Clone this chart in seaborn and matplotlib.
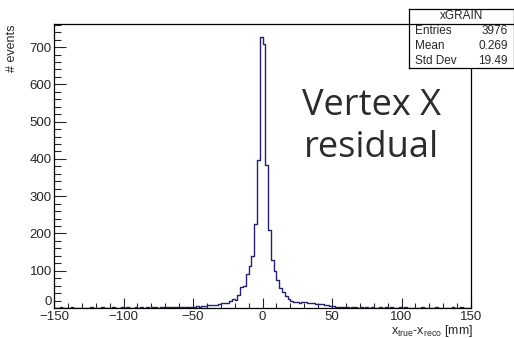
import matplotlib
matplotlib.use("Agg")
import matplotlib.pyplot as plt
from matplotlib.ticker import MultipleLocator, FuncFormatter
import numpy as np
import pandas as pd
import seaborn as sns

# histogram binning: 150 bins of 2 mm from -150 to 150
x_min, x_max, n_bins = -150, 150, 150

# counts per bin (bins left to right)
counts_left_tail = [1, 0, 2, 1, 0, 1, 2, 0, 1, 1,
                    0, 1, 0, 2, 1, 0, 1, 2, 1, 0,
                    1, 2, 1, 0, 3, 1, 2, 1, 0, 2,
                    1, 2, 1, 2, 1, 3, 2, 1, 2, 2,
                    2, 3, 2, 3, 2, 3, 4, 3, 3, 4]
counts_core_left = [4, 5, 3, 6, 5, 8, 7, 9, 8, 10,
                    13, 14, 13, 20, 25, 22, 36, 56, 58, 90,
                    112, 139, 225, 398, 726]
counts_core_right = [709, 383, 210, 130, 100, 75, 55, 42, 31, 25,
                     20, 16, 17, 14, 16, 15, 14, 13, 14, 12,
                     11, 12, 9, 8, 6]
counts_right_tail = [5, 3, 4, 2, 3, 2, 1, 3, 2, 1,
                     2, 1, 2, 1, 3, 1, 0, 2, 1, 2,
                     1, 2, 0, 1, 3, 1, 2, 0, 1, 1,
                     0, 1, 2, 1, 0, 1, 0, 2, 1, 0,
                     1, 0, 1, 2, 0, 1, 2, 0, 1, 0]

stats_title = "xGRAIN"
stats_rows = [("Entries", "3976"), ("Mean", "0.269"), ("Std Dev", "19.49")]

counts = counts_left_tail + counts_core_left + counts_core_right + counts_right_tail
edges = np.linspace(x_min, x_max, n_bins + 1)
centers = 0.5 * (edges[:-1] + edges[1:])
df = pd.DataFrame({"x": centers, "w": counts})

sns.set_style("ticks")
plt.rcParams["font.family"] = ["Liberation Sans", "DejaVu Sans"]
plt.rcParams["mathtext.fontset"] = "custom"
plt.rcParams["mathtext.rm"] = "Liberation Sans"
plt.rcParams["mathtext.it"] = "Liberation Sans"

fig = plt.figure(figsize=(5.14, 3.38), dpi=100)
ax = fig.add_axes([54 / 514, 30 / 338, 417 / 514, 284 / 338])

sns.histplot(data=df, x="x", weights="w", bins=list(edges), element="step", fill=False,
             color="#22226e", linewidth=1.0, ax=ax)

ax.set_xlim(x_min, x_max)
ax.set_ylim(0, 762)
ax.xaxis.set_major_locator(MultipleLocator(50))
ax.xaxis.set_minor_locator(MultipleLocator(10))
ax.yaxis.set_major_locator(MultipleLocator(100))
ax.yaxis.set_minor_locator(MultipleLocator(20))
# the "0" on y is drawn separately, a little lifted as ROOT does
ax.yaxis.set_major_formatter(FuncFormatter(lambda v, p: "" if v == 0 else f"{v:g}"))
ax.annotate("0", xy=(0, 0), xycoords="axes fraction", xytext=(-1.5, 4),
            textcoords="offset points", ha="right", va="center", fontsize=9.5)
ax.tick_params(axis="x", which="major", direction="in", length=7, width=0.8, pad=2, labelsize=9.5)
ax.tick_params(axis="x", which="minor", direction="in", length=3.6, width=0.8)
ax.tick_params(axis="y", which="major", direction="in", length=8.6, width=0.8, pad=1.5, labelsize=9.5)
ax.tick_params(axis="y", which="minor", direction="in", length=4.7, width=0.8)
for s in ax.spines.values():
    s.set_linewidth(0.9)
    s.set_color("black")

ax.set_ylabel("# events", fontsize=9, loc="top")
ax.yaxis.set_label_coords(-0.086, 1.0)
ax.set_xlabel(r"x$_{\rm true}$-x$_{\rm reco}$ [mm]", fontsize=9, loc="right")
ax.xaxis.set_label_coords(1.005, -0.053)

# stats box
box = fig.add_axes([409 / 514, 1 - 68 / 338, 105 / 514, 59 / 338])
box.set_xticks([])
box.set_yticks([])
box.set_xlim(0, 1)
box.set_ylim(0, 1)
box.set_facecolor("white")
for s in box.spines.values():
    s.set_linewidth(0.9)
    s.set_color("black")
box.axhline(0.75, color="black", linewidth=0.9)
box.text(0.5, 0.875, stats_title, ha="center", va="center", fontsize=8.5)
for i, (k, v) in enumerate(stats_rows):
    yy = 0.625 - 0.25 * i
    box.text(0.06, yy, k, ha="left", va="center", fontsize=8.5)
    box.text(0.94, yy, v, ha="right", va="center", fontsize=8.5)

fig.text(0.722, 1 - 115 / 338, "Vertex X", ha="center", va="baseline",
         fontsize=26, color="#2b2b2b", family=["Open Sans", "DejaVu Sans"])
fig.text(0.722, 1 - 157 / 338, "residual", ha="center", va="baseline",
         fontsize=26, color="#2b2b2b", family=["Open Sans", "DejaVu Sans"])

fig.savefig("out.png", dpi=100)
